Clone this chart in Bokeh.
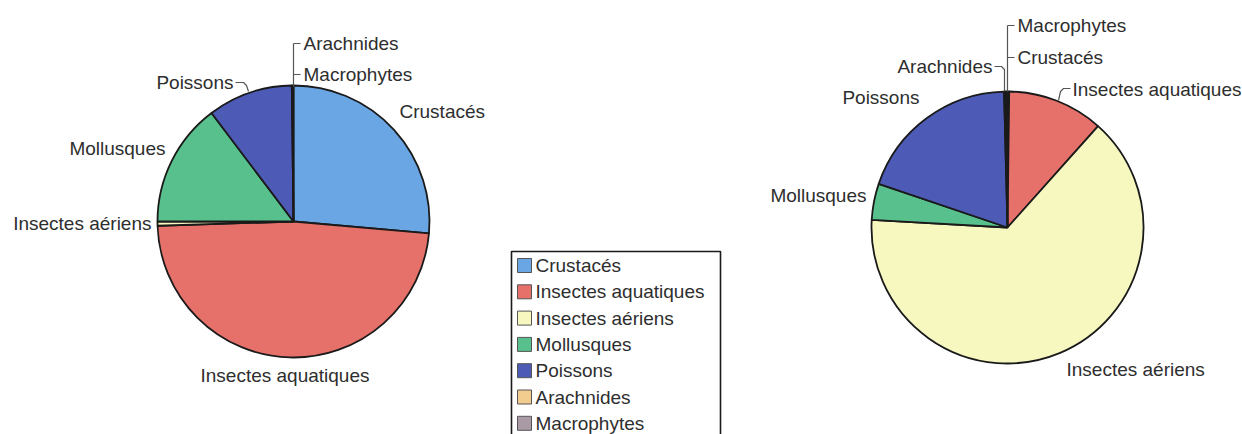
import math
from bokeh.plotting import figure
from bokeh.models import Range1d
from bokeh.core.properties import value
from bokeh.embed import file_html
from bokeh.resources import INLINE

# ---- data -------------------------------------------------------------
categories = ["Crustacés", "Insectes aquatiques", "Insectes aériens",
              "Mollusques", "Poissons", "Arachnides", "Macrophytes"]
colors = ["#6aa6e4", "#e6706a", "#f7f8c0", "#58c08c", "#4d5ab6",
          "#f2cc8f", "#a99aa5"]

# diet composition (%) for the two samples, clockwise from 12 o'clock
left_values = [26.4, 48.1, 0.5, 14.7, 10.1, 0.1, 0.1]
right_values = [0.2, 11.4, 64.3, 4.3, 19.4, 0.2, 0.2]

# ---- layout -----------------------------------------------------------
W, H = 1242, 434
FONT = "Liberation Sans"
FS = "19px"
TXT = "#2e2e2e"
EDGE = "#1a1a1a"


def Y(y):
    """screen-style y (top = 0) to plot y (bottom = 0)"""
    return H - y


p = figure(width=W, height=H, x_range=Range1d(0, W), y_range=Range1d(0, H),
           x_axis_type=None, y_axis_type=None, toolbar_location=None,
           output_backend="svg", min_border=0, outline_line_color=None,
           background_fill_color="white", border_fill_color="white")
p.grid.visible = False


def draw_pie(cx, cy, r, vals):
    total = float(sum(vals))
    cum = 0.0
    starts, ends = [], []
    for v in vals:
        starts.append(math.pi / 2 - 2 * math.pi * cum / total)
        cum += v
        ends.append(math.pi / 2 - 2 * math.pi * cum / total)
    p.wedge(x=[cx] * len(vals), y=[Y(cy)] * len(vals), radius=r,
            start_angle=starts, end_angle=ends, direction="clock",
            fill_color=colors, line_color=EDGE, line_width=1.8)


def label(x, y, txt, align="left"):
    p.text(x=[x], y=[Y(y)], text=[txt], text_font=value(FONT),
           text_font_size=FS, text_color=TXT, text_align=align,
           text_baseline="middle")


def leader(xs, ys):
    p.line(x=xs, y=[Y(v) for v in ys], line_color="#555555", line_width=1.2)


# left pie
draw_pie(293, 221, 136, left_values)
label(303, 43, categories[5])
label(303, 74, categories[6])
leader([293, 293], [43, 86])
leader([293, 300], [43, 43])
leader([293, 300], [74, 74])
label(399, 111, categories[0])
label(233, 82, categories[4], align="right")
leader([235, 243, 246, 248], [82, 82, 85, 91])
label(165, 148, categories[3], align="right")
label(151, 223, categories[2], align="right")
label(200, 375, categories[1])

# right pie
draw_pie(1007, 227, 136, right_values)
label(1017, 25, categories[6])
label(1017, 57, categories[0])
leader([1007, 1007], [25, 91])
leader([1007, 1014], [25, 25])
leader([1007, 1014], [57, 57])
label(992, 66, categories[5], align="right")
leader([994, 1001, 1004, 1004], [66, 66, 69, 91])
label(1072, 89, categories[1])
leader([1070, 1063, 1060, 1058], [88, 88, 91, 100])
label(919, 97, categories[4], align="right")
label(866, 195, categories[3], align="right")
label(1066, 369, categories[2])

# legend box
p.quad(left=[511], right=[720], top=[Y(251)], bottom=[Y(445)],
       fill_color="white", line_color=EDGE, line_width=1.6)
leg_y0, leg_step = 265, 26.3
for i, (name, col) in enumerate(zip(categories, colors)):
    yy = leg_y0 + i * leg_step
    p.quad(left=[517], right=[531], top=[Y(yy - 7)], bottom=[Y(yy + 7)],
           fill_color=col, line_color="#555555", line_width=1)
    label(535, yy, name)

open("out.html", "w").write(file_html(p, INLINE))
